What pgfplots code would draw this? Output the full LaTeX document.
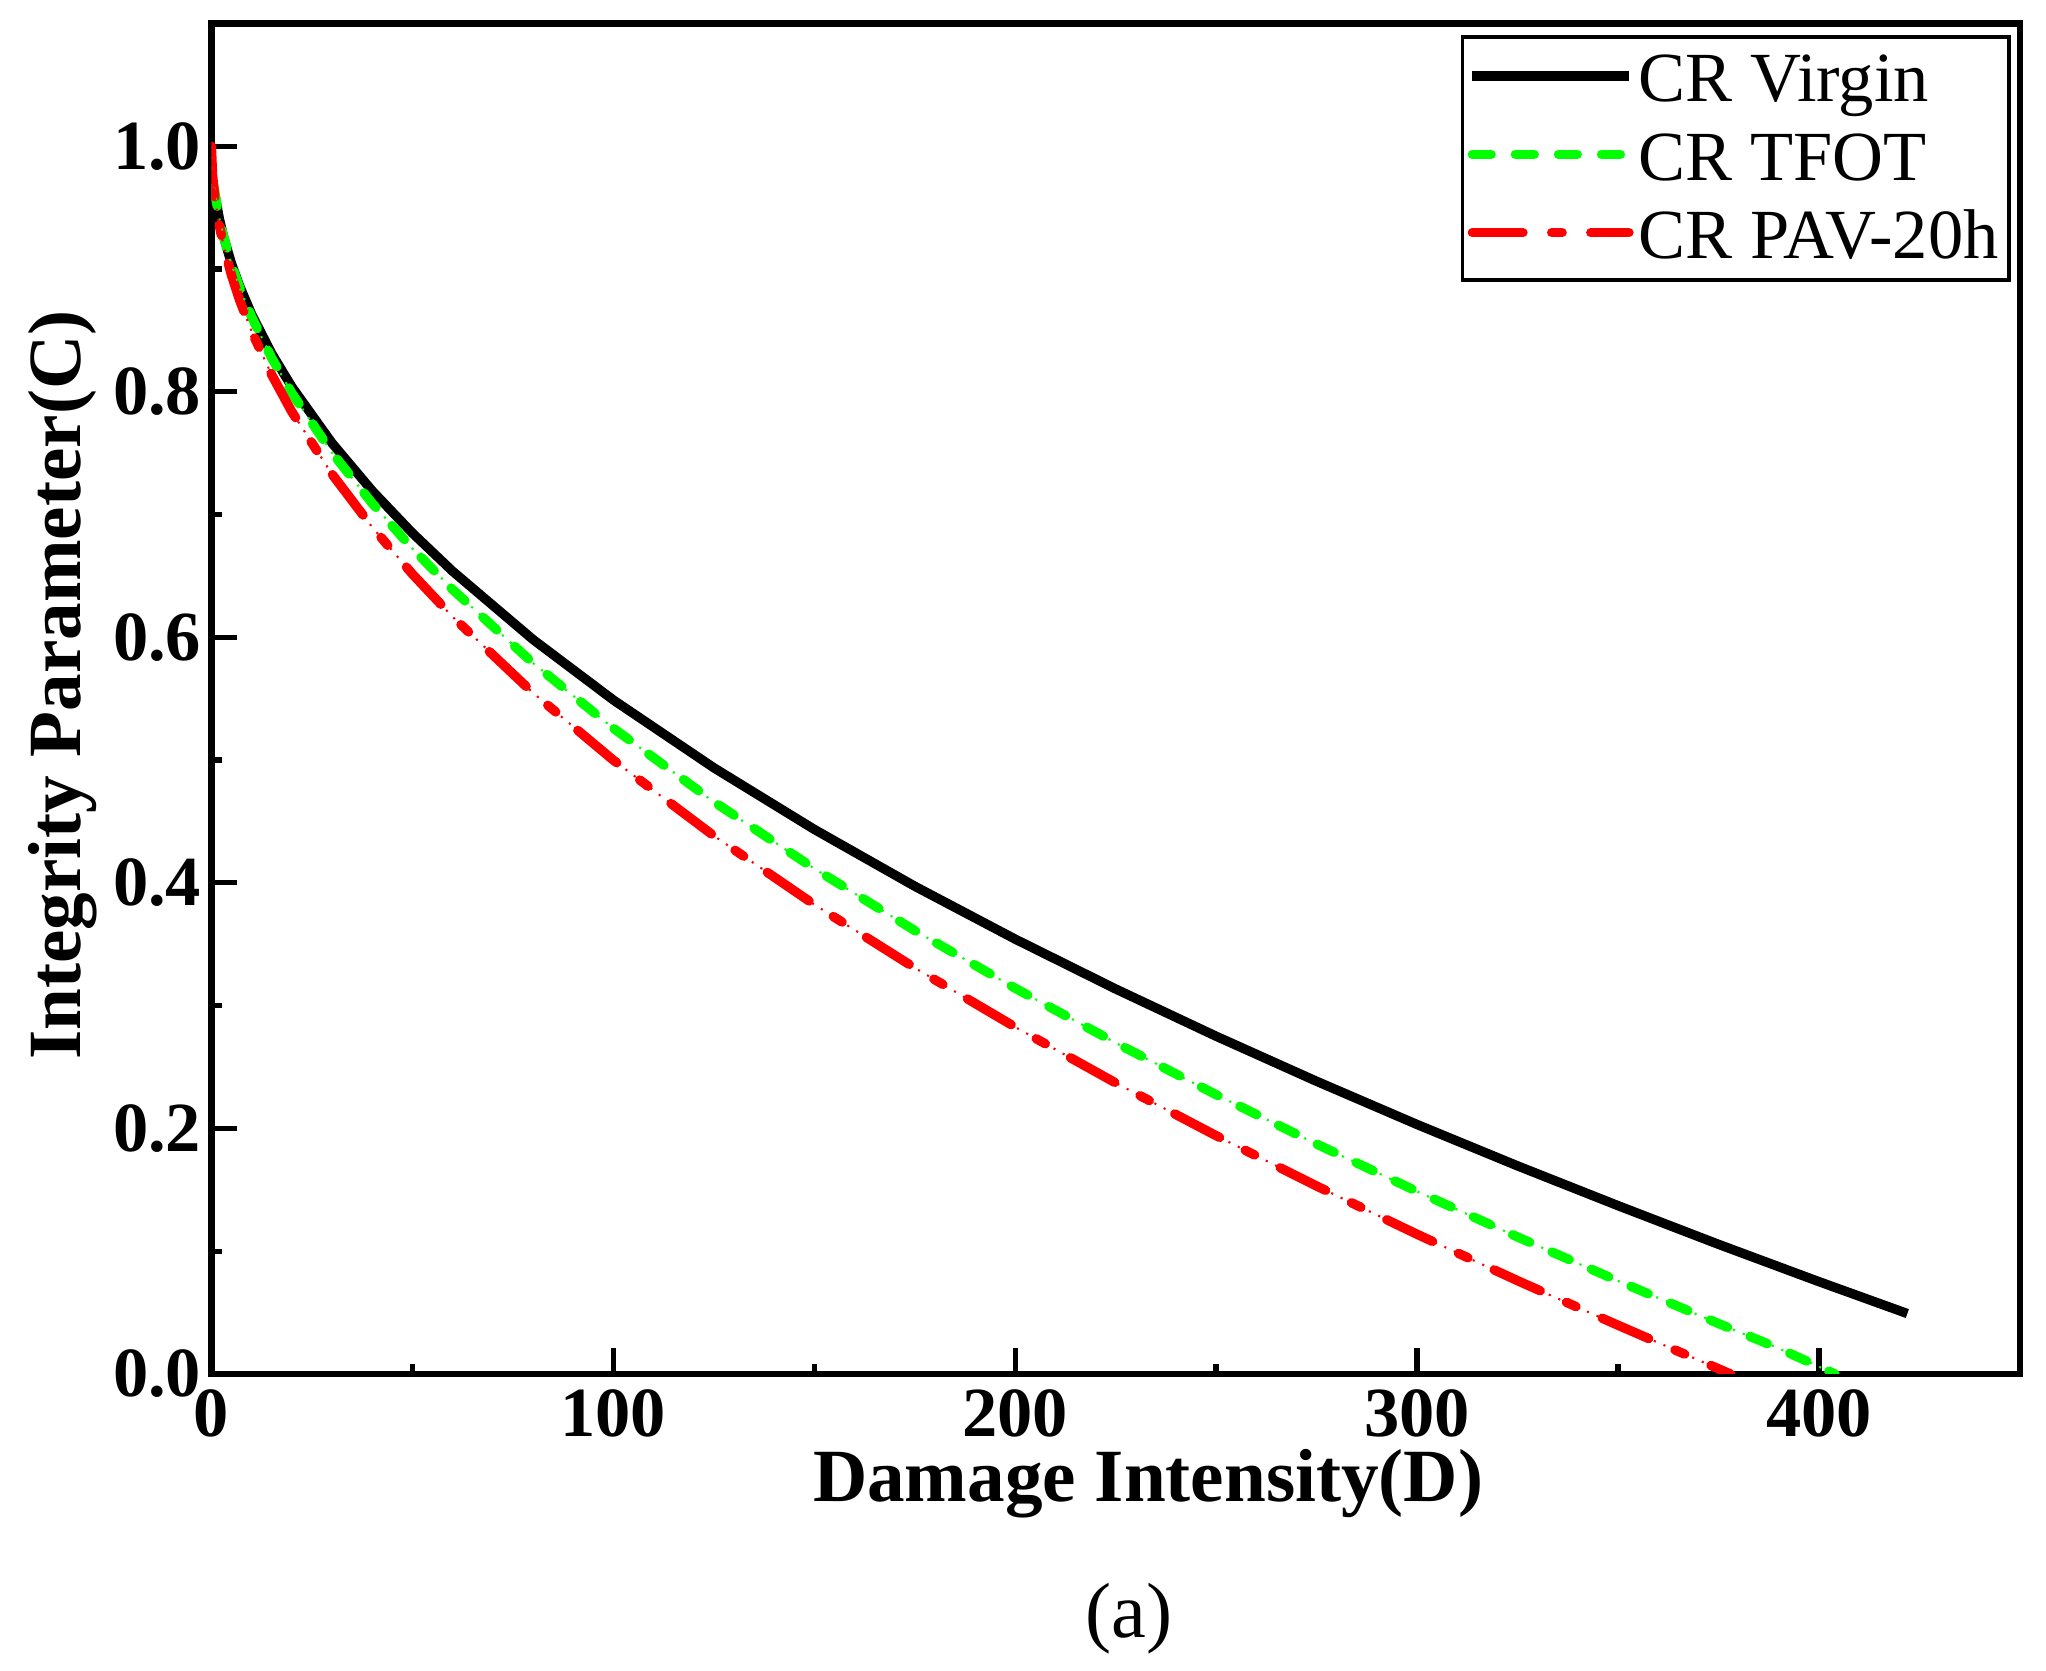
\documentclass[border=0pt]{standalone}
\usepackage{pgfplots}
\usepackage{pgfplotstable}
\pgfplotsset{compat=1.18}
\usepackage{fontspec}
\setmainfont{Liberation Serif}
\pgfplotstableread{
D C
1 0.9585
2 0.9406
3 0.9267
5 0.9044
7 0.8863
10 0.8632
15 0.8312
20 0.8041
30 0.7583
40 0.7194
50 0.6850
60 0.6539
80 0.5983
100 0.5490
125 0.4938
150 0.4436
175 0.3973
200 0.3542
225 0.3136
250 0.2751
275 0.2384
300 0.2032
325 0.1695
350 0.1371
375 0.1056
400 0.0752
422 0.0492
}\virgin
\pgfplotstableread{
D C
0.7 0.9663
1 0.9593
2 0.9411
3 0.9269
5 0.9040
7 0.8851
10 0.8611
15 0.8276
20 0.7990
30 0.7505
40 0.7092
50 0.6724
60 0.6390
80 0.5791
100 0.5260
125 0.4661
150 0.4117
175 0.3612
200 0.3142
225 0.2697
250 0.2275
275 0.1873
300 0.1487
325 0.1116
350 0.0758
375 0.0411
390 0.0209
404 0.0
}\tfot
\pgfplotstableread{
D C
0 1.0
0.3 0.976
1 0.9546
2 0.9349
3 0.9196
5 0.8950
7 0.8749
10 0.8493
15 0.8139
20 0.7838
30 0.7330
40 0.6898
50 0.6516
60 0.6168
80 0.5548
100 0.5000
125 0.4384
150 0.3824
175 0.3308
200 0.2826
225 0.2371
250 0.1941
275 0.1531
300 0.1138
325 0.0760
350 0.0397
365 0.0184
378 0.0
}\pav
\definecolor{cgreen}{RGB}{0,255,0}
\definecolor{cred}{RGB}{255,0,0}
\begin{document}
\begin{tikzpicture}
\begin{axis}[
  scale only axis, width=346.5pt, height=258.75pt,
  xmin=0, xmax=450, ymin=0, ymax=1.1,
  axis line style={line width=1.2pt},
  xtick={0,100,200,300,400}, minor xtick={50,150,250,350},
  ytick={0,0.2,0.4,0.6,0.8,1.0}, minor ytick={0.1,0.3,0.5,0.7,0.9},
  tick align=inside, xtick pos=bottom, ytick pos=left,
  major tick length=5pt, minor tick length=2pt,
  every tick/.style={line width=1pt, black},
  /pgf/number format/assume math mode=true,
  tick label style={font=\bfseries\fontsize{13.5}{14}\selectfont},
  yticklabel style={/pgf/number format/.cd, fixed, fixed zerofill, precision=1, /tikz/.cd, inner sep=0pt, xshift=-1.75pt},
  xticklabel style={inner sep=0pt, yshift=-2.75pt, text depth=0pt},
  xlabel={Damage Intensity(D)},
  ylabel={Integrity Parameter(C)},
  label style={font=\bfseries\fontsize{14.4}{15}\selectfont},
  xlabel style={at={(axis description cs:0.518,-0.0945)}, anchor=base, inner sep=0pt, text height=9pt},
  ylabel style={at={(axis description cs:-0.0722,0.51)}, anchor=base, inner sep=0pt},
  legend style={at={(rel axis cs:0.995,0.9913)}, anchor=north east, draw=black, line width=0.7pt,
    font=\fontsize{13.5}{13.5}\selectfont, inner xsep=1pt, inner ysep=0.75pt,
    nodes={inner sep=1pt, text height=10.65pt, text depth=2.35pt}},
  legend cell align=left,
  legend image code/.code={\draw[#1] (0pt,0.75pt) -- (30pt,0.75pt);},
]
\coordinate (O) at (rel axis cs:0,0);
\addplot[black, line width=1.8pt] table[x=D,y=C] {\virgin};
\addlegendentry{CR Virgin}
\addplot[cgreen, line width=1.8pt, line cap=round, dash pattern=on 3.6pt off 4.65pt] table[x=D,y=C] {\tfot};
\addlegendentry{CR TFOT}
\addplot[cred, line width=1.8pt, line cap=round, dash pattern=on 9.7pt off 5.5pt on 2pt off 5.5pt] table[x=D,y=C] {\pav};
\addlegendentry{CR PAV-20h}
\addplot[cgreen, line width=0.4pt, dash pattern=on 0.4pt off 1.6pt, forget plot] table[x=D,y=C] {\tfot};
\addplot[cred, line width=0.4pt, dash pattern=on 0.4pt off 1.6pt, forget plot] table[x=D,y=C] {\pav};
\end{axis}
\node[anchor=base, font=\fontsize{15}{15}\selectfont, inner sep=0pt] at ([xshift=175.75pt, yshift=-50.5pt]O) {(a)};
\pgfresetboundingbox
\path ([xshift=-40.5pt, yshift=-56.75pt]O) rectangle ++(392pt,320pt);
\end{tikzpicture}
\end{document}
